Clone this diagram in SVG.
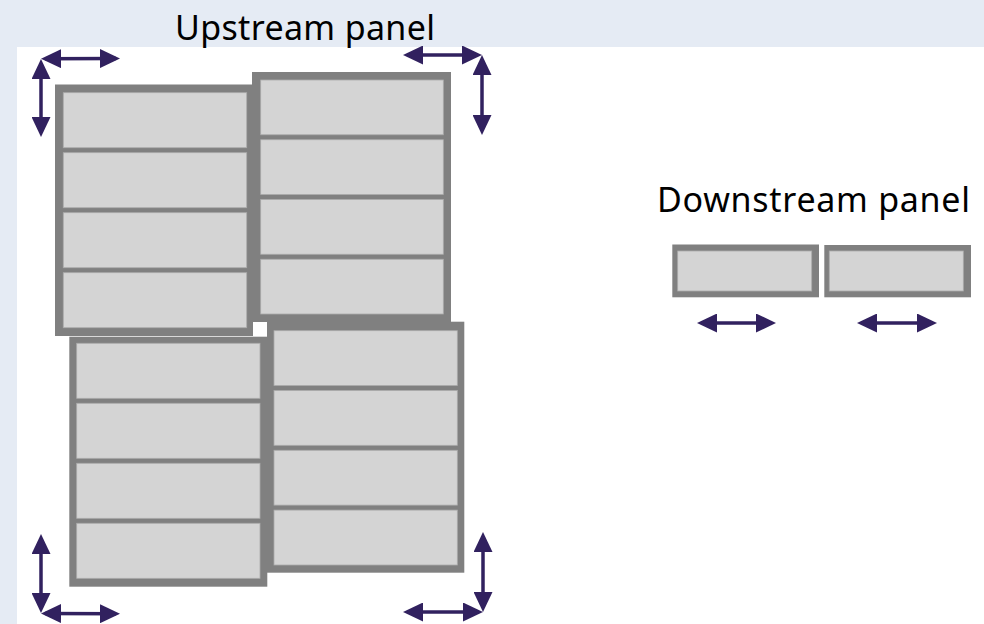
<svg xmlns="http://www.w3.org/2000/svg" width="984" height="624" viewBox="0 0 984 624">
<style>
.frame{fill:#808080}
.cell{fill:#d4d4d4;stroke:#ababab;stroke-width:0.8}
.arrow{stroke:#31215f;stroke-width:3.5;fill:none;marker-start:url(#ah);marker-end:url(#ah)}
.label{font-family:"Noto Sans","Open Sans","Liberation Sans",sans-serif;font-size:34px;fill:#000}
</style>
<defs>
<marker id="ah" viewBox="0 0 20 19" refX="16" refY="9.5" markerWidth="20" markerHeight="19" markerUnits="userSpaceOnUse" orient="auto-start-reverse">
<path d="M0,0 L20,9.5 L0,19 z" fill="#31215f"/>
</marker>
</defs>
<rect x="0" y="0" width="984" height="624" fill="#e5ebf4"/>
<rect x="17" y="47" width="967" height="577" fill="#ffffff"/>

<text class="label" x="175" y="39.5" textLength="260" lengthAdjust="spacing">Upstream panel</text>
<text class="label" x="657" y="211.7" textLength="313" lengthAdjust="spacing">Downstream panel</text>

<g id="panel-upper-left">
<rect class="frame" x="55" y="84.5" width="198" height="251.5"/>
<rect class="cell" x="63.3" y="92.7" width="183.4" height="55"/>
<rect class="cell" x="63.3" y="152.7" width="183.4" height="55"/>
<rect class="cell" x="63.3" y="212.7" width="183.4" height="55"/>
<rect class="cell" x="63.3" y="272.7" width="183.4" height="55"/>
</g>
<g id="panel-upper-right">
<rect class="frame" x="252" y="72" width="199" height="250"/>
<rect class="cell" x="260.7" y="80" width="182.6" height="54.75"/>
<rect class="cell" x="260.7" y="139.75" width="182.6" height="54.75"/>
<rect class="cell" x="260.7" y="199.5" width="182.6" height="54.75"/>
<rect class="cell" x="260.7" y="259.25" width="182.6" height="54.75"/>
</g>
<g id="panel-lower-left">
<rect class="frame" x="69.3" y="336.7" width="198" height="250"/>
<rect class="cell" x="76.7" y="343.3" width="183.3" height="55"/>
<rect class="cell" x="76.7" y="403.3" width="183.3" height="55"/>
<rect class="cell" x="76.7" y="463.3" width="183.3" height="55"/>
<rect class="cell" x="76.7" y="523.3" width="183.3" height="55"/>
</g>
<g id="panel-lower-right">
<rect class="frame" x="267" y="321.7" width="197.3" height="251"/>
<rect class="cell" x="274" y="330.7" width="183.3" height="54.8"/>
<rect class="cell" x="274" y="390.5" width="183.3" height="54.8"/>
<rect class="cell" x="274" y="450.3" width="183.3" height="54.8"/>
<rect class="cell" x="274" y="510.1" width="183.3" height="54.9"/>
</g>
<g id="downstream-left">
<rect class="frame" x="672.3" y="244.5" width="146.7" height="52.8"/>
<rect class="cell" x="677.7" y="251" width="134" height="40"/>
</g>
<g id="downstream-right">
<rect class="frame" x="824.3" y="245" width="146.7" height="52.3"/>
<rect class="cell" x="829.3" y="251" width="134" height="40"/>
</g>

<g id="connectors">
<line class="arrow" x1="45" y1="58.7" x2="116" y2="58.5"/>
<line class="arrow" x1="41" y1="63" x2="41" y2="133"/>
<line class="arrow" x1="407" y1="55" x2="478" y2="55"/>
<line class="arrow" x1="482" y1="59" x2="482" y2="131"/>
<line class="arrow" x1="41" y1="538" x2="41" y2="609"/>
<line class="arrow" x1="45" y1="613.5" x2="116" y2="613.8"/>
<line class="arrow" x1="483" y1="536" x2="483" y2="608"/>
<line class="arrow" x1="407" y1="612" x2="479" y2="612"/>
<line class="arrow" x1="701" y1="323" x2="772" y2="323"/>
<line class="arrow" x1="861" y1="323" x2="933" y2="323"/>
</g>
</svg>
